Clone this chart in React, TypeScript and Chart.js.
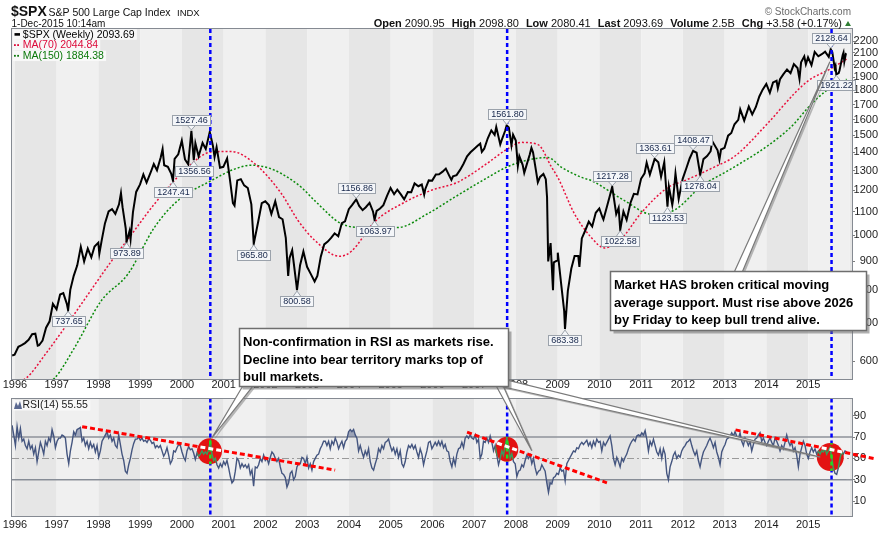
import React, { useEffect, useRef } from 'react';
import { Chart, registerables } from 'chart.js';

Chart.register(...registerables);

const FONT = '"Liberation Sans", Arial, Helvetica, sans-serif';
const W = 887;
const H = 539;
const TOP_H = 392;
const RSI_H = 147;

// ---------- axes ----------
const yearTicks = [1996, 1997, 1998, 1999, 2000, 2001, 2002, 2003, 2004, 2005, 2006, 2007, 2008, 2009, 2010, 2011, 2012, 2013, 2014, 2015];
const priceTicks = [600, 700, 800, 900, 1000, 1100, 1200, 1300, 1400, 1500, 1600, 1700, 1800, 1900, 2000, 2100, 2200];
const rsiTicks = [10, 30, 50, 70, 90];
const xRange = [1995.93, 2016.05];
const priceRange = [558, 2310];
const rsiRange = [-4, 106];

// ---------- $SPX weekly closes (sampled) ----------
const spx1996to2005: [string, number][] = [
  ['1995-12-08', 614], ['1995-12-29', 615.93], ['1996-01-31', 636.02], ['1996-02-29', 640.43], ['1996-03-29', 645.5], ['1996-04-30', 654.17], ['1996-05-31', 669.12], ['1996-06-28', 670.63], ['1996-07-19', 638.73], ['1996-07-31', 639.95], ['1996-08-30', 651.99], ['1996-09-30', 687.31], ['1996-10-31', 705.27], ['1996-11-29', 757.02], ['1996-12-31', 740.74],
  ['1997-01-31', 786.16], ['1997-02-28', 790.82], ['1997-03-31', 757.12], ['1997-04-11', 737.65], ['1997-04-30', 801.34], ['1997-05-30', 848.28], ['1997-06-30', 885.14], ['1997-07-31', 954.31], ['1997-08-29', 899.47], ['1997-09-30', 947.28], ['1997-10-31', 914.62], ['1997-11-28', 955.4], ['1997-12-31', 970.43],
  ['1998-01-09', 927.69], ['1998-01-30', 980.28], ['1998-02-27', 1049.34], ['1998-03-31', 1101.75], ['1998-04-30', 1111.75], ['1998-05-29', 1090.82], ['1998-06-30', 1133.84], ['1998-07-17', 1186.75], ['1998-07-31', 1120.67], ['1998-08-28', 1027.14], ['1998-09-04', 973.89], ['1998-09-30', 1017.01], ['1998-10-09', 984.39], ['1998-10-30', 1098.67], ['1998-11-27', 1192.33], ['1998-12-31', 1229.23],
  ['1999-01-29', 1279.64], ['1999-02-26', 1238.33], ['1999-03-31', 1286.37], ['1999-04-30', 1335.18], ['1999-05-28', 1301.84], ['1999-06-30', 1372.71], ['1999-07-16', 1418.78], ['1999-07-30', 1328.72], ['1999-08-31', 1320.41], ['1999-09-30', 1282.71], ['1999-10-15', 1247.41], ['1999-10-29', 1362.93], ['1999-11-30', 1388.91], ['1999-12-31', 1469.25],
  ['2000-01-28', 1360.16], ['2000-02-25', 1333.36], ['2000-03-24', 1527.46], ['2000-04-14', 1356.56], ['2000-04-28', 1452.43], ['2000-05-26', 1378.02], ['2000-06-30', 1454.6], ['2000-07-28', 1419.89], ['2000-09-01', 1520.77], ['2000-09-29', 1436.51], ['2000-10-13', 1374.17], ['2000-10-31', 1429.4], ['2000-11-30', 1314.95], ['2000-12-29', 1320.28],
  ['2001-01-31', 1366.01], ['2001-02-28', 1239.94], ['2001-03-23', 1139.83], ['2001-04-06', 1128.43], ['2001-04-30', 1249.46], ['2001-05-31', 1255.82], ['2001-06-29', 1224.42], ['2001-07-31', 1211.23], ['2001-08-31', 1133.58], ['2001-09-21', 965.8], ['2001-10-31', 1059.78], ['2001-11-30', 1139.45], ['2001-12-31', 1148.08],
  ['2002-01-31', 1130.2], ['2002-02-22', 1089.84], ['2002-03-28', 1147.39], ['2002-04-30', 1076.92], ['2002-05-31', 1067.14], ['2002-06-28', 989.82], ['2002-07-19', 847.75], ['2002-07-31', 911.62], ['2002-08-23', 940.86], ['2002-09-30', 815.28], ['2002-10-04', 800.58], ['2002-10-31', 885.76], ['2002-11-29', 936.31], ['2002-12-31', 879.82],
  ['2003-01-31', 855.7], ['2003-03-07', 828.89], ['2003-03-31', 848.18], ['2003-04-30', 916.92], ['2003-05-30', 963.59], ['2003-06-30', 974.5], ['2003-07-31', 990.31], ['2003-08-29', 1008.01], ['2003-09-30', 995.97], ['2003-10-31', 1050.71], ['2003-11-28', 1058.2], ['2003-12-31', 1111.92],
  ['2004-01-30', 1131.13], ['2004-03-05', 1156.86], ['2004-03-31', 1126.21], ['2004-04-30', 1107.3], ['2004-05-28', 1120.68], ['2004-06-30', 1140.84], ['2004-07-30', 1101.72], ['2004-08-13', 1063.97], ['2004-08-31', 1104.24], ['2004-09-30', 1114.58], ['2004-10-29', 1130.2], ['2004-11-30', 1173.82], ['2004-12-31', 1211.92],
  ['2005-01-31', 1181.27], ['2005-02-28', 1203.6], ['2005-03-31', 1180.59], ['2005-04-29', 1156.85], ['2005-05-31', 1191.5], ['2005-06-30', 1191.33], ['2005-07-29', 1234.18], ['2005-08-31', 1220.33], ['2005-09-30', 1228.81], ['2005-10-21', 1179.59], ['2005-10-31', 1207.01], ['2005-11-30', 1249.48], ['2005-12-30', 1248.29],
];
const spx2006to2015: [string, number][] = [
  ['2006-01-31', 1280.08], ['2006-02-28', 1280.66], ['2006-03-31', 1294.83], ['2006-04-28', 1310.61], ['2006-05-31', 1270.09], ['2006-06-16', 1251.54], ['2006-06-30', 1270.2], ['2006-07-31', 1276.66], ['2006-08-31', 1303.82], ['2006-09-29', 1335.85], ['2006-10-31', 1377.94], ['2006-11-30', 1400.63], ['2006-12-29', 1418.3],
  ['2007-01-31', 1438.24], ['2007-02-23', 1451.19], ['2007-03-09', 1402.84], ['2007-03-30', 1420.86], ['2007-04-30', 1482.37], ['2007-05-31', 1530.62], ['2007-06-29', 1503.35], ['2007-07-13', 1552.5], ['2007-08-17', 1445.94], ['2007-08-31', 1473.99], ['2007-09-28', 1526.75], ['2007-10-12', 1561.8], ['2007-10-31', 1549.38], ['2007-11-23', 1440.7], ['2007-12-07', 1504.66], ['2007-12-31', 1468.36],
  ['2008-01-18', 1325.19], ['2008-01-31', 1378.55], ['2008-02-29', 1330.63], ['2008-03-14', 1288.14], ['2008-03-31', 1322.7], ['2008-04-30', 1385.59], ['2008-05-16', 1425.35], ['2008-05-30', 1400.38], ['2008-06-30', 1280.0], ['2008-07-11', 1239.49], ['2008-07-31', 1267.38], ['2008-08-29', 1282.83], ['2008-09-19', 1255.08], ['2008-09-30', 1166.36], ['2008-10-10', 899.22], ['2008-10-31', 968.75], ['2008-11-21', 800.03], ['2008-11-28', 896.24], ['2008-12-31', 903.25],
  ['2009-01-02', 931.8], ['2009-01-30', 825.88], ['2009-02-27', 735.09], ['2009-03-06', 683.38], ['2009-03-31', 797.87], ['2009-04-30', 872.81], ['2009-05-29', 919.14], ['2009-06-30', 919.32], ['2009-07-10', 879.13], ['2009-07-31', 987.48], ['2009-08-31', 1020.62], ['2009-09-30', 1057.08], ['2009-10-30', 1036.19], ['2009-11-30', 1095.63], ['2009-12-31', 1115.1],
  ['2010-01-29', 1073.87], ['2010-02-05', 1066.19], ['2010-02-26', 1104.49], ['2010-03-31', 1169.43], ['2010-04-23', 1217.28], ['2010-05-28', 1089.41], ['2010-06-18', 1117.51], ['2010-07-02', 1022.58], ['2010-07-30', 1101.6], ['2010-08-27', 1064.59], ['2010-09-30', 1141.2], ['2010-10-29', 1183.26], ['2010-11-30', 1180.55], ['2010-12-31', 1257.64],
  ['2011-01-31', 1286.12], ['2011-02-18', 1343.01], ['2011-03-18', 1279.2], ['2011-04-29', 1363.61], ['2011-05-31', 1345.2], ['2011-06-24', 1268.45], ['2011-07-22', 1345.02], ['2011-08-19', 1123.53], ['2011-08-31', 1218.89], ['2011-09-30', 1131.42], ['2011-10-07', 1155.46], ['2011-10-28', 1285.09], ['2011-11-25', 1158.67], ['2011-12-30', 1257.6],
  ['2012-01-31', 1312.41], ['2012-02-29', 1365.68], ['2012-03-30', 1408.47], ['2012-04-30', 1397.91], ['2012-06-01', 1278.04], ['2012-06-29', 1362.16], ['2012-07-31', 1379.32], ['2012-08-31', 1406.58], ['2012-09-14', 1465.77], ['2012-10-31', 1412.16], ['2012-11-16', 1359.88], ['2012-11-30', 1416.18], ['2012-12-31', 1426.19],
  ['2013-01-31', 1498.11], ['2013-02-28', 1514.68], ['2013-03-28', 1569.19], ['2013-04-30', 1597.57], ['2013-05-17', 1667.47], ['2013-06-21', 1592.43], ['2013-07-31', 1685.73], ['2013-08-30', 1632.97], ['2013-09-30', 1681.55], ['2013-10-31', 1756.54], ['2013-11-29', 1805.81], ['2013-12-31', 1848.36],
  ['2014-01-31', 1782.59], ['2014-02-28', 1859.45], ['2014-03-31', 1872.34], ['2014-04-11', 1815.69], ['2014-04-30', 1883.95], ['2014-05-30', 1923.57], ['2014-06-30', 1960.23], ['2014-07-31', 1930.67], ['2014-08-29', 2003.37], ['2014-09-30', 1972.29], ['2014-10-17', 1886.76], ['2014-10-31', 2018.05], ['2014-11-28', 2067.56], ['2014-12-12', 2002.33], ['2014-12-31', 2058.9],
  ['2015-01-30', 1994.99], ['2015-02-27', 2104.5], ['2015-03-31', 2067.89], ['2015-04-30', 2085.51], ['2015-05-29', 2107.39], ['2015-06-30', 2063.11], ['2015-07-17', 2128.64], ['2015-07-31', 2103.84], ['2015-08-21', 1970.89], ['2015-08-28', 1988.87], ['2015-09-04', 1921.22], ['2015-09-25', 1931.34], ['2015-10-02', 1951.36], ['2015-10-30', 2079.36], ['2015-11-06', 2099.2], ['2015-11-13', 2023.04], ['2015-11-27', 2090.11], ['2015-12-01', 2093.69],
];

// ---------- moving averages (decimal year, value) ----------
const ma70: [number, number][] = [
  [1995.93, 548], [1996.27, 560], [1996.75, 620], [1997.27, 700], [1998.31, 900], [1998.8, 1005], [1999.34, 1135], [2000.14, 1318], [2000.7, 1402], [2001.18, 1405], [2001.74, 1338], [2002.38, 1185], [2002.78, 1062], [2003.18, 980], [2003.78, 918], [2004.06, 937], [2004.61, 1055], [2005.33, 1143], [2005.97, 1200], [2006.61, 1241], [2007.25, 1329], [2007.81, 1422], [2008.13, 1458], [2008.53, 1445], [2008.85, 1320], [2009.01, 1262], [2009.4, 1092], [2009.81, 990], [2010.12, 950], [2010.52, 985], [2011.0, 1095], [2011.64, 1214], [2012.04, 1248], [2012.76, 1320], [2013.24, 1378], [2014.04, 1578], [2014.67, 1778], [2015.0, 1872], [2015.55, 1968], [2015.92, 2044.84],
];
const ma150: [number, number][] = [
  [1995.93, 505], [1996.95, 560], [1997.43, 634], [1998.07, 767], [1998.71, 855], [1999.34, 1032], [1999.9, 1151], [2000.7, 1248], [2001.26, 1308], [2001.66, 1329], [2002.06, 1315], [2002.38, 1285], [2002.86, 1215], [2003.18, 1151], [2003.82, 1048], [2004.37, 1032], [2005.17, 1032], [2005.89, 1092], [2006.53, 1167], [2007.33, 1265], [2007.81, 1322], [2008.45, 1365], [2008.77, 1371], [2009.09, 1318], [2009.57, 1265], [2009.81, 1248], [2010.6, 1151], [2011.24, 1090], [2011.8, 1108], [2012.44, 1220], [2013.08, 1300], [2013.8, 1400], [2014.36, 1500], [2014.67, 1574], [2015.0, 1680], [2015.4, 1790], [2015.92, 1884.38],
];

// ---------- RSI(14), sampled every ~2 weeks from Dec 1995 ----------
const rsiStart = 1995.932;
const rsiStep = 0.039901;
const rsi1996to2002 = [
  81, 72, 62, 80, 69, 78, 66, 68, 62, 59, 66, 59, 62, 54, 60, 47, 56, 65, 60, 54,
  66, 62, 69, 66, 77, 71, 60, 66, 69, 69, 72, 71, 69, 54, 45, 57, 65, 75, 72, 77,
  78, 79, 66, 69, 62, 66, 59, 65, 60, 63, 56, 62, 51, 57, 66, 69, 72, 75, 69, 72,
  66, 69, 62, 60, 72, 63, 54, 48, 38, 36, 44, 50, 58, 64, 68, 68, 70, 67, 69, 66,
  67, 65, 68, 67, 64, 65, 60, 62, 60, 62, 57, 52, 55, 60, 53, 45, 48, 57, 56, 60,
  63, 62, 56, 51, 48, 57, 61, 58, 59, 55, 49, 55, 52, 54, 57, 54, 56, 54, 58, 66,
  54, 48, 50, 44, 41, 45, 42, 47, 44, 48, 41, 33, 27, 29, 38, 50, 48, 41, 45, 42,
  44, 41, 44, 35, 39, 24, 42, 41, 44, 50, 47, 53, 48, 50, 45, 51, 56, 54, 50, 47,
  50, 42, 36, 35, 32, 23, 27, 36, 38, 30, 33, 42, 45, 45,
];
const rsi2002to2009 = [
  51, 50, 45, 51, 41, 45, 39, 47, 50, 53, 54, 59, 62, 66, 66, 62, 66, 59, 66, 63,
  69, 65, 59, 63, 66, 60, 66, 68, 75, 77, 75, 77, 72, 69, 57, 62, 56, 51, 57, 53,
  59, 47, 41, 39, 45, 50, 59, 56, 62, 59, 65, 66, 68, 62, 57, 60, 54, 59, 51, 57,
  45, 42, 47, 56, 62, 60, 63, 59, 62, 56, 51, 59, 54, 44, 51, 57, 65, 66, 59, 62,
  65, 62, 66, 62, 66, 60, 63, 57, 56, 47, 42, 50, 44, 54, 59, 60, 65, 60, 69, 71,
  69, 72, 69, 68, 72, 65, 68, 50, 54, 66, 65, 69, 65, 71, 65, 57, 62, 53, 44, 50,
  57, 53, 62, 69, 62, 50, 54, 47, 45, 33, 38, 39, 44, 42, 48, 53, 50, 53, 45, 50,
  41, 35, 38, 39, 44, 41, 38, 27, 18, 27, 26, 32, 33, 36, 35, 41, 38, 39, 29, 45,
  48, 51, 54, 57, 56, 60, 59, 63, 65, 63, 65, 67, 62,
];
const rsi2009to2015 = [
  65, 60, 66, 62, 68, 65, 66, 57, 65, 62, 65, 68, 71, 62, 50, 44, 51, 47, 42, 50,
  47, 51, 54, 59, 63, 66, 68, 66, 71, 72, 71, 74, 72, 76, 68, 57, 66, 62, 68, 62,
  56, 53, 59, 50, 59, 54, 36, 30, 42, 47, 53, 56, 50, 53, 51, 57, 60, 62, 65, 66,
  68, 62, 57, 53, 57, 48, 42, 50, 56, 59, 62, 66, 69, 65, 60, 65, 56, 51, 44, 56,
  60, 63, 68, 69, 71, 74, 71, 75, 71, 69, 74, 66, 62, 69, 66, 62, 66, 57, 63, 68,
  69, 72, 74, 66, 69, 65, 62, 66, 69, 65, 62, 69, 66, 62, 57, 62, 59, 65, 72, 66,
  62, 65, 57, 60, 53, 42, 54, 60, 66, 62, 54, 50, 56, 60, 56, 59, 54, 57, 54, 57,
  56, 59, 54, 57, 60, 51, 41, 36, 35, 41, 50, 56, 54, 57, 56,
];

// ---------- annotations ----------
const peakLabels: [string, number][] = [
  ['2000-03-24', 1527.46], ['2004-03-05', 1156.86], ['2007-10-12', 1561.8], ['2010-04-23', 1217.28], ['2011-04-29', 1363.61], ['2012-03-30', 1408.47], ['2015-07-17', 2128.64],
];
const troughLabels: [string, number][] = [
  ['1997-04-11', 737.65], ['1998-09-04', 973.89], ['1999-10-15', 1247.41], ['2000-04-14', 1356.56], ['2001-09-21', 965.8], ['2002-10-04', 800.58], ['2004-08-13', 1063.97], ['2009-03-06', 683.38], ['2010-07-02', 1022.58], ['2011-08-19', 1123.53], ['2012-06-01', 1278.04], ['2015-09-04', 1921.22],
];
const signalDates = [2000.68, 2007.79, 2015.56];
const rsiTrendLines: [number, number, number, number][] = [
  [1997.61, 79.7, 2003.67, 39.0],
  [2006.83, 74.6, 2010.18, 27.1],
  [2013.26, 76.7, 2016.61, 49.6],
];
const rsiCircles: [number, number][] = [[2000.66, 56.6], [2007.78, 58.6], [2015.53, 51.2]];
const noteAnchors: [number, number][] = [[2001.36, 686], [2010.26, 864]];
const noteTargetsRsi: [number, number][] = [[2000.72, 69.2], [2008.38, 57.2], [2015.29, 51.2]];
const noteTargetPrice: [number, number] = [2015.52, 2023];
const note1 = ['Non-confirmation in RSI as markets rise.', 'Decline into bear territory marks top of', 'bull markets.'];
const note2 = ['Market HAS broken critical moving', 'average support. Must rise above 2026', 'by Friday to keep bull trend alive.'];
const legendMain = ['$SPX (Weekly) 2093.69', 'MA(70) 2044.84', 'MA(150) 1884.38'];
const legendRsi = 'RSI(14) 55.55';
const quote: [string, string][] = [['Open', '2090.95'], ['High', '2098.80'], ['Low', '2080.41'], ['Last', '2093.69'], ['Volume', '2.5B'], ['Chg', '+3.58 (+0.17%)']];

// ---------- helpers ----------
function toYear(s: string): number {
  const [y, m, d] = s.split('-').map(Number);
  const a = Date.UTC(y, 0, 1);
  const b = Date.UTC(y + 1, 0, 1);
  return y + (Date.UTC(y, m - 1, d) - a) / (b - a);
}

const spxPoints = [...spx1996to2005, ...spx2006to2015].map(([d, v]) => ({ x: toYear(d), y: v }));
const ma70Points = ma70.map(([t, v]) => ({ x: t, y: v }));
const ma150Points = ma150.map(([t, v]) => ({ x: t, y: v }));
const rsiPoints = [...rsi1996to2002, ...rsi2002to2009, ...rsi2009to2015].map((v, i) => ({ x: rsiStart + i * rsiStep, y: v }));

function drawBands(chart: any) {
  const { ctx, chartArea: a } = chart;
  const xs = chart.scales.x;
  ctx.save();
  ctx.beginPath();
  ctx.rect(a.left, a.top, a.right - a.left, a.bottom - a.top);
  ctx.clip();
  for (let yr = 1995; yr <= 2016; yr++) {
    const x0 = xs.getPixelForValue(yr);
    const x1 = xs.getPixelForValue(yr + 1);
    ctx.fillStyle = yr % 2 === 0 ? '#e6e6e6' : '#f0f0f0';
    ctx.fillRect(x0, a.top, x1 - x0, a.bottom - a.top);
  }
  ctx.restore();
}

function drawFrame(chart: any) {
  const { ctx, chartArea: a } = chart;
  ctx.save();
  ctx.strokeStyle = '#858a92';
  ctx.lineWidth = 1;
  ctx.setLineDash([]);
  ctx.strokeRect(Math.round(a.left) - 0.5, Math.round(a.top) - 0.5, Math.round(a.right - a.left) + 1, Math.round(a.bottom - a.top) + 1);
  ctx.restore();
}

function drawSignals(chart: any) {
  const { ctx, chartArea: a } = chart;
  const xs = chart.scales.x;
  ctx.save();
  ctx.strokeStyle = '#0000ff';
  ctx.lineWidth = 2.5;
  ctx.setLineDash([4, 3]);
  signalDates.forEach((t) => {
    const px = xs.getPixelForValue(t);
    ctx.beginPath();
    ctx.moveTo(px, a.top);
    ctx.lineTo(px, a.bottom);
    ctx.stroke();
  });
  ctx.restore();
}

function drawValueLabel(ctx: CanvasRenderingContext2D, px: number, py: number, text: string, isPeak: boolean) {
  ctx.font = `9px ${FONT}`;
  const w = Math.round(ctx.measureText(text).width) + 5;
  const h = 10;
  const gap = 6;
  const left = Math.round(px - w / 2) + 0.5;
  const top = isPeak ? Math.round(py - gap - h) + 0.5 : Math.round(py + gap) + 0.5;
  const edge = isPeak ? top + h : top;
  ctx.beginPath();
  ctx.moveTo(px - 4, edge);
  ctx.lineTo(px, isPeak ? py - 1 : py + 1);
  ctx.lineTo(px + 4, edge);
  ctx.fillStyle = '#f4f6f9';
  ctx.fill();
  ctx.strokeStyle = '#9ba2ab';
  ctx.lineWidth = 1;
  ctx.stroke();
  ctx.fillRect(left, top, w, h);
  ctx.strokeRect(left, top, w, h);
  ctx.fillStyle = '#16264a';
  ctx.textAlign = 'center';
  ctx.textBaseline = 'middle';
  ctx.fillText(text, left + w / 2, top + h / 2 + 0.5);
}

const mainPlugin = {
  id: 'mainDecor',
  beforeDatasetsDraw(chart: any) {
    drawBands(chart);
  },
  afterDatasetsDraw(chart: any) {
    const { ctx, chartArea: a } = chart;
    const xs = chart.scales.x;
    const ys = chart.scales.y;
    drawSignals(chart);
    ctx.save();
    peakLabels.forEach(([d, v]) => drawValueLabel(ctx, xs.getPixelForValue(toYear(d)), ys.getPixelForValue(v), v.toFixed(2), true));
    troughLabels.forEach(([d, v]) => drawValueLabel(ctx, xs.getPixelForValue(toYear(d)), ys.getPixelForValue(v), v.toFixed(2), false));
    ctx.restore();
    // legend
    ctx.save();
    const colors = ['#000000', '#dc0a3a', '#0a780a'];
    ctx.font = `10.5px ${FONT}`;
    ctx.textBaseline = 'middle';
    ctx.textAlign = 'left';
    legendMain.forEach((t, i) => {
      const cy = a.top + 5.3 + i * 10.7;
      const tw = ctx.measureText(t).width;
      ctx.fillStyle = 'rgba(249,249,249,0.9)';
      ctx.fillRect(a.left + 1, cy - 5, tw + 12, 10.4);
      ctx.fillStyle = colors[i];
      if (i === 0) {
        ctx.fillRect(a.left + 2.5, cy - 1.2, 5.5, 2.6);
      } else {
        ctx.fillRect(a.left + 2, cy - 0.8, 1.8, 1.8);
        ctx.fillRect(a.left + 5.2, cy - 0.8, 1.8, 1.8);
      }
      ctx.fillText(t, a.left + 10.8, cy + 0.5);
    });
    ctx.restore();
    drawFrame(chart);
  },
};

const rsiPlugin = {
  id: 'rsiDecor',
  beforeDatasetsDraw(chart: any) {
    drawBands(chart);
    const { ctx, chartArea: a } = chart;
    const ys = chart.scales.y;
    ctx.save();
    ctx.strokeStyle = '#8e929a';
    ctx.lineWidth = 1.5;
    [70, 30].forEach((v) => {
      const py = ys.getPixelForValue(v);
      ctx.beginPath();
      ctx.moveTo(a.left, py);
      ctx.lineTo(a.right, py);
      ctx.stroke();
    });
    ctx.strokeStyle = '#9a9a9a';
    ctx.lineWidth = 1;
    ctx.setLineDash([7, 3, 2, 3]);
    const p50 = Math.round(ys.getPixelForValue(50)) + 0.5;
    ctx.beginPath();
    ctx.moveTo(a.left, p50);
    ctx.lineTo(a.right, p50);
    ctx.stroke();
    ctx.restore();
  },
  afterDatasetsDraw(chart: any) {
    const { ctx, chartArea: a } = chart;
    const xs = chart.scales.x;
    const ys = chart.scales.y;
    drawSignals(chart);
    const trend = (i: number) => {
      const [t0, v0, t1, v1] = rsiTrendLines[i];
      ctx.beginPath();
      ctx.moveTo(xs.getPixelForValue(t0), ys.getPixelForValue(v0));
      ctx.lineTo(xs.getPixelForValue(t1), ys.getPixelForValue(v1));
      ctx.stroke();
    };
    ctx.save();
    ctx.strokeStyle = '#ff0000';
    ctx.lineWidth = 3;
    ctx.setLineDash([5, 3]);
    rsiTrendLines.forEach((_, i) => trend(i));
    ctx.restore();

    const radii = [[12.5, 13], [11.5, 12.5], [13.5, 14]];
    const meta = chart.getDatasetMeta(0);
    rsiCircles.forEach(([t, v], i) => {
      const cx = xs.getPixelForValue(t);
      const cy = ys.getPixelForValue(v);
      const [rx, ry] = radii[i];
      ctx.save();
      ctx.beginPath();
      ctx.ellipse(cx, cy, rx, ry, 0, 0, Math.PI * 2);
      ctx.fillStyle = '#e31212';
      ctx.fill();
      ctx.clip();
      ctx.beginPath();
      meta.data.forEach((p: any, j: number) => (j ? ctx.lineTo(p.x, p.y) : ctx.moveTo(p.x, p.y)));
      ctx.strokeStyle = '#3a9a5c';
      ctx.lineWidth = 1.5;
      ctx.stroke();
      const sx = xs.getPixelForValue(signalDates[i]);
      ctx.setLineDash([4, 3]);
      ctx.strokeStyle = '#22dd22';
      ctx.lineWidth = 2.5;
      ctx.beginPath();
      ctx.moveTo(sx, a.top);
      ctx.lineTo(sx, a.bottom);
      ctx.stroke();
      ctx.strokeStyle = '#ffffff';
      ctx.lineWidth = 3;
      ctx.setLineDash([5, 3]);
      trend(i);
      ctx.restore();
    });

    // legend
    ctx.save();
    const cy = a.top + 6.5;
    ctx.font = `10.5px ${FONT}`;
    const tw = ctx.measureText(legendRsi).width;
    ctx.fillStyle = 'rgba(249,249,249,0.9)';
    ctx.fillRect(a.left + 1, cy - 5, tw + 12, 10.4);
    ctx.beginPath();
    ctx.moveTo(a.left + 2, cy + 4);
    ctx.lineTo(a.left + 4, cy - 3);
    ctx.lineTo(a.left + 6, cy + 1);
    ctx.lineTo(a.left + 8, cy - 4);
    ctx.lineTo(a.left + 10, cy + 4);
    ctx.closePath();
    ctx.fillStyle = '#5a6890';
    ctx.fill();
    ctx.fillStyle = '#1a1a1a';
    ctx.textBaseline = 'middle';
    ctx.textAlign = 'left';
    ctx.fillText(legendRsi, a.left + 10.5, cy + 0.5);
    ctx.restore();
    drawFrame(chart);
  },
};

function xScale(height: number, pad: number) {
  return {
    type: 'linear',
    min: xRange[0],
    max: xRange[1],
    grid: { display: false, drawTicks: false },
    border: { display: false },
    ticks: { autoSkip: false, maxRotation: 0, minRotation: 0, padding: pad, font: { size: 11 }, color: '#1c1c1c', callback: (v: number) => String(v) },
    afterBuildTicks: (s: any) => { s.ticks = yearTicks.map((v) => ({ value: v })); },
    afterFit: (s: any) => { s.height = height; },
  };
}

function wedge(ctx: CanvasRenderingContext2D, b1: any, b2: any, tip: any) {
  ctx.beginPath();
  ctx.moveTo(b1.x + 2, b1.y + 2);
  ctx.lineTo(tip.x + 2, tip.y + 2);
  ctx.lineTo(b2.x + 2, b2.y + 2);
  ctx.closePath();
  ctx.fillStyle = 'rgba(120,120,120,0.5)';
  ctx.fill();
  ctx.beginPath();
  ctx.moveTo(b1.x, b1.y);
  ctx.lineTo(tip.x, tip.y);
  ctx.lineTo(b2.x, b2.y);
  ctx.closePath();
  ctx.fillStyle = '#ffffff';
  ctx.fill();
  ctx.strokeStyle = '#7a7a7a';
  ctx.lineWidth = 1.2;
  ctx.stroke();
}

function noteBox(ctx: CanvasRenderingContext2D, x: number, y: number, w: number, h: number, lines: string[]) {
  ctx.fillStyle = 'rgba(110,110,110,0.55)';
  ctx.fillRect(x + 3, y + 3, w, h);
  ctx.fillStyle = '#ffffff';
  ctx.fillRect(x, y, w, h);
  ctx.strokeStyle = '#6e6e6e';
  ctx.lineWidth = 1.5;
  ctx.strokeRect(x, y, w, h);
  ctx.fillStyle = '#000000';
  ctx.font = `bold 13px ${FONT}`;
  ctx.textAlign = 'left';
  ctx.textBaseline = 'alphabetic';
  lines.forEach((l, i) => ctx.fillText(l, x + 3.5, y + 17.7 + i * 17.6));
}

function drawOverlay(cv: HTMLCanvasElement, c1: any, c2: any) {
  const ctx = cv.getContext('2d')!;
  ctx.clearRect(0, 0, W, H);
  // header
  ctx.textAlign = 'left';
  ctx.textBaseline = 'alphabetic';
  ctx.fillStyle = '#111111';
  ctx.font = `bold 14px ${FONT}`;
  ctx.fillText('$SPX', 11, 15.5);
  ctx.font = `10.5px ${FONT}`;
  ctx.fillText('S&P 500 Large Cap Index', 48.5, 15.5);
  ctx.font = `9.5px ${FONT}`;
  ctx.fillText('INDX', 177, 15.5);
  ctx.font = `10px ${FONT}`;
  ctx.fillText('1-Dec-2015 10:14am', 11.5, 27);
  ctx.fillStyle = '#6b6b6b';
  ctx.textAlign = 'right';
  ctx.fillText('\u00A9 StockCharts.com', 851, 15);
  ctx.textAlign = 'left';
  // quote line
  const parts: { t: string; b: boolean; gap: number }[] = [];
  quote.forEach(([k, v], i) => {
    parts.push({ t: k, b: true, gap: 0 });
    parts.push({ t: ' ' + v, b: false, gap: i < quote.length - 1 ? 7 : 0 });
  });
  let total = 0;
  parts.forEach((p) => {
    ctx.font = `${p.b ? 'bold ' : ''}11px ${FONT}`;
    total += ctx.measureText(p.t).width + p.gap;
  });
  let qx = 842 - total;
  ctx.fillStyle = '#111111';
  parts.forEach((p) => {
    ctx.font = `${p.b ? 'bold ' : ''}11px ${FONT}`;
    ctx.fillText(p.t, qx, 27);
    qx += ctx.measureText(p.t).width + p.gap;
  });
  ctx.beginPath();
  ctx.moveTo(845, 26);
  ctx.lineTo(848, 21);
  ctx.lineTo(851, 26);
  ctx.closePath();
  ctx.fillStyle = '#2e7d32';
  ctx.fill();

  // callouts
  const px1 = (t: number, v: number) => ({ x: c1.scales.x.getPixelForValue(t), y: c1.scales.y.getPixelForValue(v) });
  const px2 = (t: number, v: number) => ({ x: c2.scales.x.getPixelForValue(t), y: c2.scales.y.getPixelForValue(v) + TOP_H });
  const a1 = px1(noteAnchors[0][0], noteAnchors[0][1]);
  const a2 = px1(noteAnchors[1][0], noteAnchors[1][1]);
  const b1 = { x: Math.round(a1.x) + 0.5, y: Math.round(a1.y) + 0.5, w: 269, h: 58 };
  const b2 = { x: Math.round(a2.x) + 0.5, y: Math.round(a2.y) + 0.5, w: 256, h: 59 };
  const bot = b1.y + b1.h;
  wedge(ctx, { x: b1.x + 3, y: bot }, { x: b1.x + 13, y: bot }, px2(noteTargetsRsi[0][0], noteTargetsRsi[0][1]));
  wedge(ctx, { x: b1.x + 257, y: bot }, { x: b1.x + 264, y: bot }, px2(noteTargetsRsi[1][0], noteTargetsRsi[1][1]));
  wedge(ctx, { x: b1.x + 262, y: bot }, { x: b1.x + b1.w, y: bot - 6 }, px2(noteTargetsRsi[2][0], noteTargetsRsi[2][1]));
  wedge(ctx, { x: b2.x + 124, y: b2.y }, { x: b2.x + 132, y: b2.y }, px1(noteTargetPrice[0], noteTargetPrice[1]));
  noteBox(ctx, b1.x, b1.y, b1.w, b1.h, note1);
  noteBox(ctx, b2.x, b2.y, b2.w, b2.h, note2);
}

function yAxis(kind: string, range: number[], ticks: number[], width: number) {
  return {
    type: kind,
    position: 'right',
    min: range[0],
    max: range[1],
    grid: { drawOnChartArea: false, drawTicks: true, tickLength: 3, color: '#7d7d7d' },
    border: { display: false },
    ticks: { autoSkip: false, padding: 0, crossAlign: 'far', font: { size: 11 }, color: '#1c1c1c', callback: (v: number) => String(v) },
    afterBuildTicks: (s: any) => { s.ticks = ticks.map((v) => ({ value: v })); },
    afterFit: (s: any) => { s.width = width; },
  };
}

export default function App() {
  const r1 = useRef<HTMLCanvasElement>(null);
  const r2 = useRef<HTMLCanvasElement>(null);
  const r3 = useRef<HTMLCanvasElement>(null);

  useEffect(() => {
    Chart.defaults.font.family = FONT;
    const c1 = new Chart(r1.current!, {
      type: 'line',
      data: {
        datasets: [
          { label: '$SPX', data: spxPoints, borderColor: '#000000', borderWidth: 2, pointRadius: 0, tension: 0 },
          { label: 'MA(70)', data: ma70Points, borderColor: '#e8103c', borderWidth: 1.5, borderDash: [2, 2], pointRadius: 0, cubicInterpolationMode: 'monotone' },
          { label: 'MA(150)', data: ma150Points, borderColor: '#0a8a0a', borderWidth: 1.5, borderDash: [2, 2], pointRadius: 0, cubicInterpolationMode: 'monotone' },
        ],
      } as any,
      options: {
        animation: false,
        responsive: false,
        devicePixelRatio: 1,
        layout: { padding: { left: 12, top: 29, right: 9, bottom: 0 } },
        plugins: { legend: { display: false }, tooltip: { enabled: false } },
        scales: {
          x: xScale(13, -1),
          y: yAxis('logarithmic', priceRange, priceTicks, 26),
        },
      } as any,
      plugins: [mainPlugin],
    });
    const c2 = new Chart(r2.current!, {
      type: 'line',
      data: {
        datasets: [
          { label: 'RSI', data: rsiPoints, borderColor: '#44557f', borderWidth: 1.4, pointRadius: 0, tension: 0, fill: { target: { value: 70 }, above: 'rgba(68,85,127,0.45)', below: 'rgba(0,0,0,0)' } },
          { label: 'RSI-low', data: rsiPoints, borderColor: 'rgba(0,0,0,0)', borderWidth: 0, pointRadius: 0, tension: 0, fill: { target: { value: 30 }, above: 'rgba(0,0,0,0)', below: 'rgba(68,85,127,0.45)' } },
        ],
      } as any,
      options: {
        animation: false,
        responsive: false,
        devicePixelRatio: 1,
        layout: { padding: { left: 12, top: 2, right: 21, bottom: 0 } },
        plugins: { legend: { display: false }, tooltip: { enabled: false } },
        scales: {
          x: xScale(23, 2),
          y: yAxis('linear', rsiRange, rsiTicks, 14),
        },
      } as any,
      plugins: [rsiPlugin],
    });
    drawOverlay(r3.current!, c1, c2);
    return () => {
      c1.destroy();
      c2.destroy();
    };
  }, []);

  return (
    <div style={{ position: 'fixed', left: 0, top: 0, width: W, height: H, background: '#ffffff', overflow: 'hidden' }}>
      <canvas ref={r1} width={W} height={TOP_H} style={{ position: 'absolute', left: 0, top: 0 }} />
      <canvas ref={r2} width={W} height={RSI_H} style={{ position: 'absolute', left: 0, top: TOP_H }} />
      <canvas ref={r3} width={W} height={H} style={{ position: 'absolute', left: 0, top: 0, pointerEvents: 'none' }} />
    </div>
  );
}
